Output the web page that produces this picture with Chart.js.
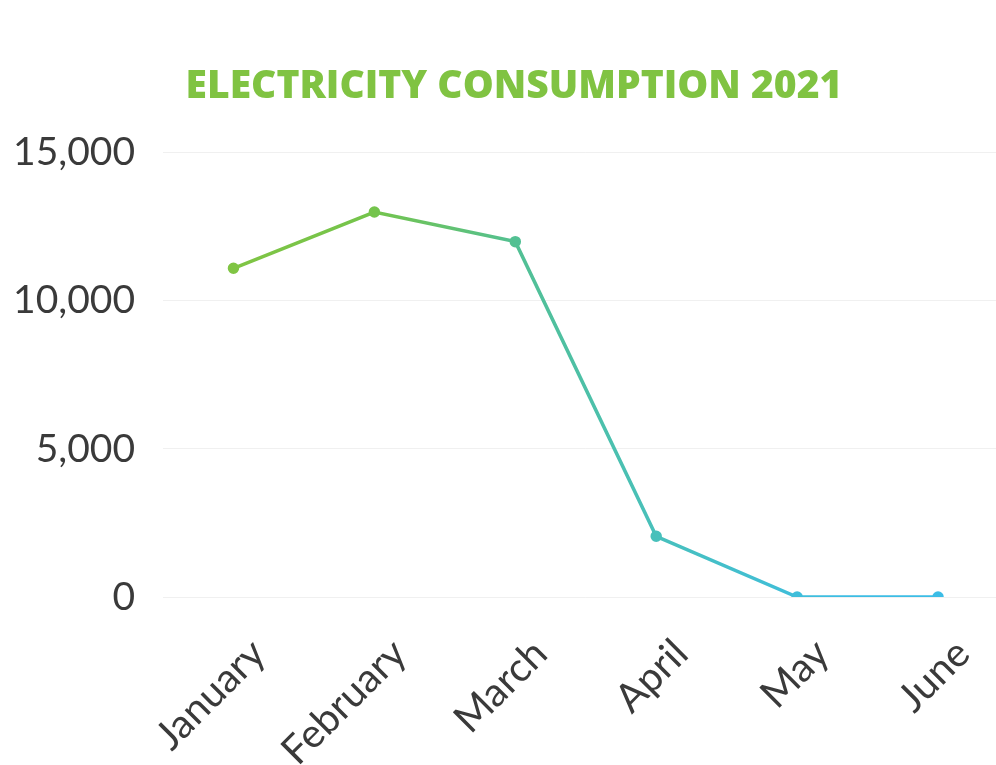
<!DOCTYPE html>
<html>
<head>
<meta charset="utf-8">
<script src="https://cdn.jsdelivr.net/npm/chart.js@4.4.1/dist/chart.umd.min.js"></script>
<style>
  html, body { margin: 0; padding: 0; background: #ffffff; overflow: hidden; width: 996px; height: 765px; }
  #wrap { position: absolute; left: 0; top: 0; width: 1016px; height: 800px; }
</style>
</head>
<body>
<div id="wrap"><canvas id="c" width="1016" height="800"></canvas></div>
<script>
const months = ["January", "February", "March", "April", "May", "June"];
const consumption = [11100, 13000, 12000, 2050, 0, 0];
const yTicks = [0, 5000, 10000, 15000];
const titleText = "ELECTRICITY CONSUMPTION 2021";

const ctx = document.getElementById('c').getContext('2d');

function lineGradient(context) {
  const chart = context.chart;
  const area = chart.chartArea;
  if (!area) return '#5cc0b0';
  const g = chart.ctx.createLinearGradient(area.left, 0, area.right, 0);
  g.addColorStop(0.0, '#86c540');
  g.addColorStop(0.25, '#74c44c');
  g.addColorStop(0.42, '#52c094');
  g.addColorStop(0.6, '#47c0bf');
  g.addColorStop(0.8, '#3dbde3');
  g.addColorStop(1.0, '#3bbce8');
  return g;
}

new Chart(ctx, {
  type: 'line',
  data: {
    labels: months,
    datasets: [{
      data: consumption,
      borderColor: lineGradient,
      backgroundColor: lineGradient,
      pointBackgroundColor: lineGradient,
      pointBorderColor: lineGradient,
      borderWidth: 3.5,
      pointRadius: 4,
      tension: 0,
      fill: false
    }]
  },
  options: {
    responsive: false,
    animation: false,
    devicePixelRatio: 1,
    layout: { padding: { left: 12, right: 0, top: 0, bottom: 0 } },
    plugins: {
      legend: { display: false },
      tooltip: { enabled: false },
      title: {
        display: true,
        text: titleText,
        color: '#80c342',
        font: { family: 'Open Sans', weight: '800', size: 39, lineHeight: 1.2 },
        padding: { top: 63, bottom: 43 },
        align: 'center'
      }
    },
    scales: {
      x: {
        offset: true,
        grid: { display: false, drawTicks: false },
        border: { display: false },
        ticks: {
          color: '#3a3a3a',
          font: { family: 'Lato', size: 40 },
          minRotation: 45,
          maxRotation: 45,
          padding: 33,
          labelOffset: 25,
          autoSkip: false
        },
        afterFit: function(scale) { scale.height = 800 - 597; }
      },
      y: {
        min: 0,
        max: 15000,
        afterBuildTicks: function(scale) { scale.ticks = yTicks.map(v => ({ value: v })); },
        grid: { color: 'rgba(0,0,0,0.06)', drawTicks: false, lineWidth: 1 },
        border: { display: false },
        ticks: {
          color: '#3a3a3a',
          font: { family: 'Lato', size: 39 },
          padding: 28,
          callback: v => v.toLocaleString('en-US')
        },
        afterFit: function(scale) { scale.width = 163 - 12; }
      }
    }
  }
});
</script>
</body>
</html>
